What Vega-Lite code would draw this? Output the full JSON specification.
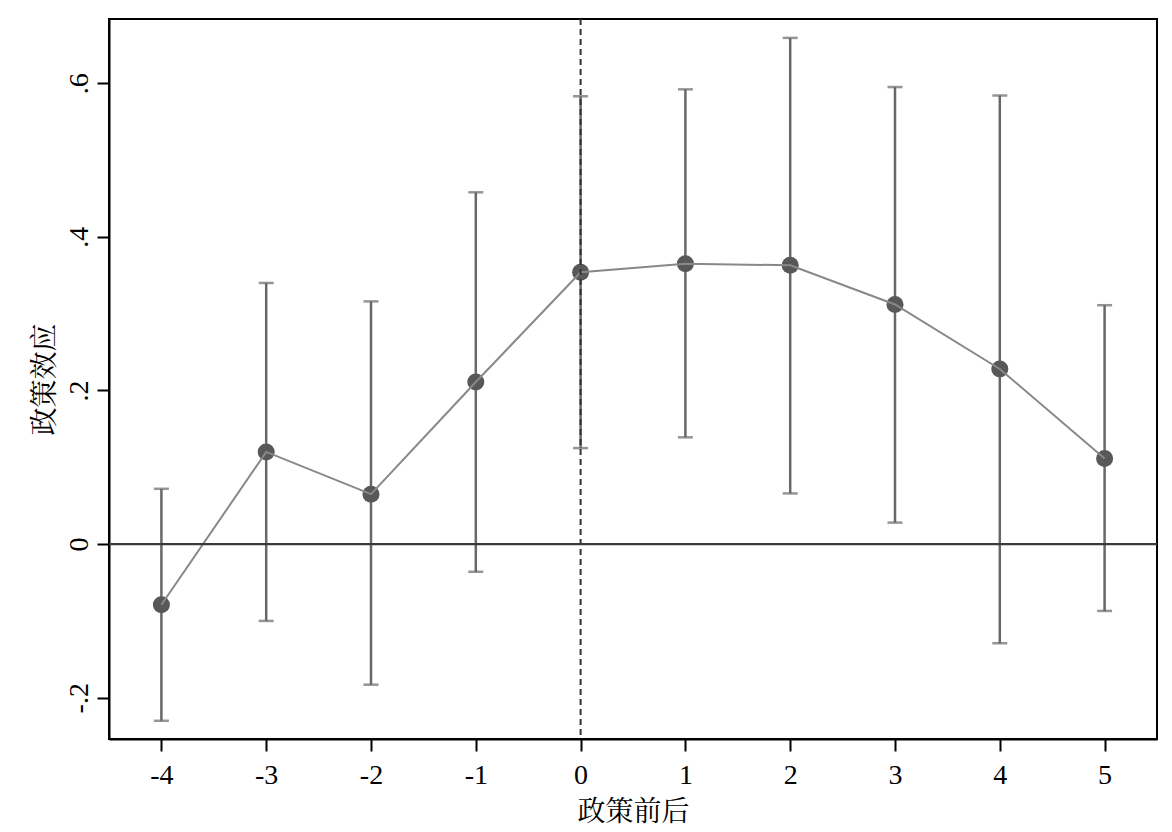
{
  "$schema": "https://vega.github.io/schema/vega-lite/v6.json",
  "width": 1048,
  "height": 720,
  "autosize": {"type": "none"},
  "padding": {"left": 109, "top": 19, "right": 15, "bottom": 93},
  "background": "white",
  "config": {
    "font": "Liberation Serif, Noto Sans CJK SC",
    "view": {"stroke": "black", "strokeWidth": 2},
    "axis": {
      "grid": false,
      "domainColor": "black",
      "domainWidth": 2,
      "tickColor": "black",
      "tickWidth": 2,
      "tickSize": 12,
      "labelFont": "Liberation Serif",
      "labelFontSize": 28,
      "labelColor": "black",
      "titleFont": "Liberation Serif, Noto Serif CJK SC, Noto Sans CJK SC",
      "titleFontSize": 28,
      "titleFontWeight": "normal",
      "titleColor": "black"
    }
  },
  "data": {
    "values": [
      {"t": -4, "b": -0.079, "lo": -0.230, "hi": 0.072},
      {"t": -3, "b": 0.120, "lo": -0.100, "hi": 0.340},
      {"t": -2, "b": 0.065, "lo": -0.183, "hi": 0.316},
      {"t": -1, "b": 0.211, "lo": -0.036, "hi": 0.458},
      {"t": 0, "b": 0.354, "lo": 0.125, "hi": 0.583},
      {"t": 1, "b": 0.365, "lo": 0.139, "hi": 0.592},
      {"t": 2, "b": 0.363, "lo": 0.066, "hi": 0.659},
      {"t": 3, "b": 0.312, "lo": 0.028, "hi": 0.595},
      {"t": 4, "b": 0.228, "lo": -0.129, "hi": 0.584},
      {"t": 5, "b": 0.1115, "lo": -0.087, "hi": 0.311}
    ]
  },
  "encoding": {
    "x": {
      "field": "t",
      "type": "quantitative",
      "scale": {"domain": [-4.5, 5.5], "nice": false, "zero": false},
      "axis": {
        "title": "政策前后",
        "values": [-4, -3, -2, -1, 0, 1, 2, 3, 4, 5],
        "labelExpr": "(datum.value < 0 ? '-' : '') + abs(datum.value)",
        "labelPadding": 10,
        "titlePadding": 9
      }
    }
  },
  "layer": [
    {
      "mark": {"type": "rule", "color": "#686868", "strokeWidth": 2.5},
      "encoding": {
        "y": {
          "field": "lo",
          "type": "quantitative",
          "scale": {"domain": [-0.2537, 0.6836], "nice": false, "zero": false},
          "axis": {
            "title": "政策效应",
            "values": [-0.2, 0, 0.2, 0.4, 0.6],
            "labelExpr": "datum.value == 0 ? '0' : (datum.value < 0 ? '-' : '') + replace(format(abs(datum.value), '.1f'), '0.', '.')",
            "labelAngle": -90,
            "labelAlign": "center",
            "labelBaseline": "bottom",
            "labelPadding": 4,
            "titlePadding": 6
          }
        },
        "y2": {"field": "hi"}
      }
    },
    {
      "mark": {"type": "tick", "orient": "horizontal", "color": "#686868", "size": 15, "thickness": 2.5},
      "encoding": {"y": {"field": "lo", "type": "quantitative"}}
    },
    {
      "mark": {"type": "tick", "orient": "horizontal", "color": "#686868", "size": 15, "thickness": 2.5},
      "encoding": {"y": {"field": "hi", "type": "quantitative"}}
    },
    {
      "mark": {"type": "point", "filled": true, "color": "#585858", "size": 290, "opacity": 1},
      "encoding": {"y": {"field": "b", "type": "quantitative"}}
    },
    {
      "mark": {"type": "line", "color": "#888888", "strokeWidth": 2},
      "encoding": {"y": {"field": "b", "type": "quantitative"}}
    },
    {
      "data": {"values": [{"z": 0}]},
      "mark": {"type": "rule", "color": "#3a3a3a", "strokeWidth": 2.2},
      "encoding": {"y": {"field": "z", "type": "quantitative"}, "x": null}
    },
    {
      "data": {"values": [{"z": 0}]},
      "mark": {"type": "rule", "color": "#333333", "strokeWidth": 2, "strokeDash": [6, 4]},
      "encoding": {"x": {"field": "z", "type": "quantitative"}}
    }
  ]
}
